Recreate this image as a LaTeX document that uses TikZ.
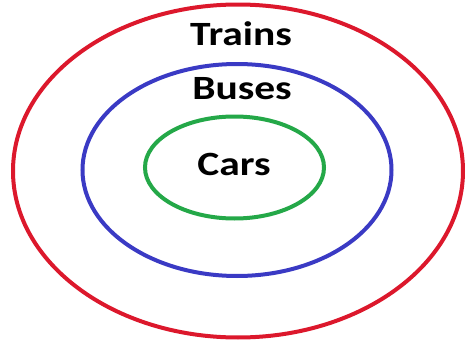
\documentclass[tikz,border=0pt]{standalone}
\usepackage{fontspec}
\setmainfont{Carlito}
\usetikzlibrary{shapes.geometric}
\definecolor{trainred}{RGB}{220,24,44}
\definecolor{busblue}{RGB}{58,58,196}
\definecolor{cargreen}{RGB}{36,168,72}
\begin{document}
\begin{tikzpicture}[x=1pt,y=-1pt]
    \tikzstyle{set} = [ellipse, draw, line width=4pt, inner sep=0pt]
    \tikzstyle{label} = [font=\fontsize{34}{34}\selectfont\bfseries, inner sep=0pt, xscale=1.22, transform shape]
    \useasboundingbox (0,0) rectangle (467,343);
    \node[set, trainred, minimum width=450pt, minimum height=333pt] (trains) at (238,171) {};
    \node[set, busblue, minimum width=309pt, minimum height=212pt] (buses) at (237,170) {};
    \node[set, cargreen, minimum width=179pt, minimum height=102pt] (cars) at (234.5,167.5) {};
    \node[label] (trainstext) at (241,34) {Trains};
    \node[label] (busestext) at (242,89) {Buses};
    \node[label] (carstext) at (234,164) {Cars};
\end{tikzpicture}
\end{document}
